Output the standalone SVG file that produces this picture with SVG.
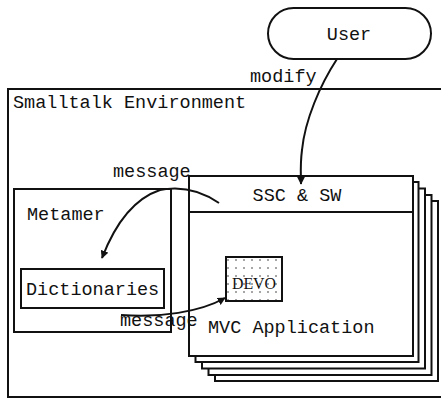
<svg xmlns="http://www.w3.org/2000/svg" width="441" height="399" viewBox="0 0 441 399">
<style>
text{font-family:"Liberation Mono","Courier New",monospace;font-size:18.5px;fill:#111}
.b{fill:#fff;stroke:#111;stroke-width:2}
.c{fill:none;stroke:#111;stroke-width:2}
</style>
<defs>
<pattern id="dots" width="8" height="8" patternUnits="userSpaceOnUse"><circle cx="4" cy="4" r="0.8" fill="#333"/></pattern>
<marker id="ah" viewBox="0 0 10 10" refX="9" refY="5" markerWidth="8" markerHeight="8" markerUnits="userSpaceOnUse" orient="auto"><path d="M0,0 L10,5 L0,10 z" fill="#111"/></marker>
</defs>
<rect width="441" height="399" fill="#fff"/>
<g id="env">
<path d="M441,89 H8 V397 H441" class="c" stroke-width="1.6"/>
<text x="13" y="108">Smalltalk Environment</text>
</g>
<g id="user">
<rect x="268" y="8" width="163" height="51" rx="25.5" class="b"/>
<text x="349" y="40" text-anchor="middle">User</text>
</g>
<g id="mvc">
<rect x="215" y="201" width="223" height="180" class="b"/>
<rect x="208.5" y="195" width="223" height="180" class="b"/>
<rect x="202" y="188.5" width="223" height="180" class="b"/>
<rect x="195.5" y="182" width="223" height="180" class="b"/>
<rect x="189" y="176" width="224" height="180" class="b"/>
<line x1="189" y1="212" x2="413" y2="212" class="c"/>
<text x="297" y="201" text-anchor="middle">SSC &amp; SW</text>
<text x="208" y="333">MVC Application</text>
</g>
<g id="metamer">
<rect x="14" y="189" width="157" height="143" class="b"/>
<text x="27" y="220">Metamer</text>
</g>
<g id="dictionaries">
<rect x="21" y="269" width="143" height="39" class="b"/>
<text x="26" y="295">Dictionaries</text>
</g>
<g id="devo">
<rect x="226" y="257" width="56" height="44" fill="url(#dots)" stroke="#111" stroke-width="2"/>
<text x="254" y="289" text-anchor="middle" font-size="17" textLength="44" lengthAdjust="spacingAndGlyphs" style="font-family:'Liberation Serif','Times New Roman',serif;font-size:17px">DEVO</text>
</g>
<g id="connectors">
<path d="M337,59 C320,85 305,120 302,150 C300,165 301,175 301,184" class="c" marker-end="url(#ah)"/>
<path d="M219,203 C200,190 180,186 160,190 C130,200 112,232 102,258" class="c" marker-end="url(#ah)"/>
<path d="M121,315 C160,318 200,312 225,298" class="c" marker-end="url(#ah)"/>
<text x="250" y="82">modify</text>
<text x="113" y="177">message</text>
<text x="120" y="326">message</text>
</g>
</svg>
